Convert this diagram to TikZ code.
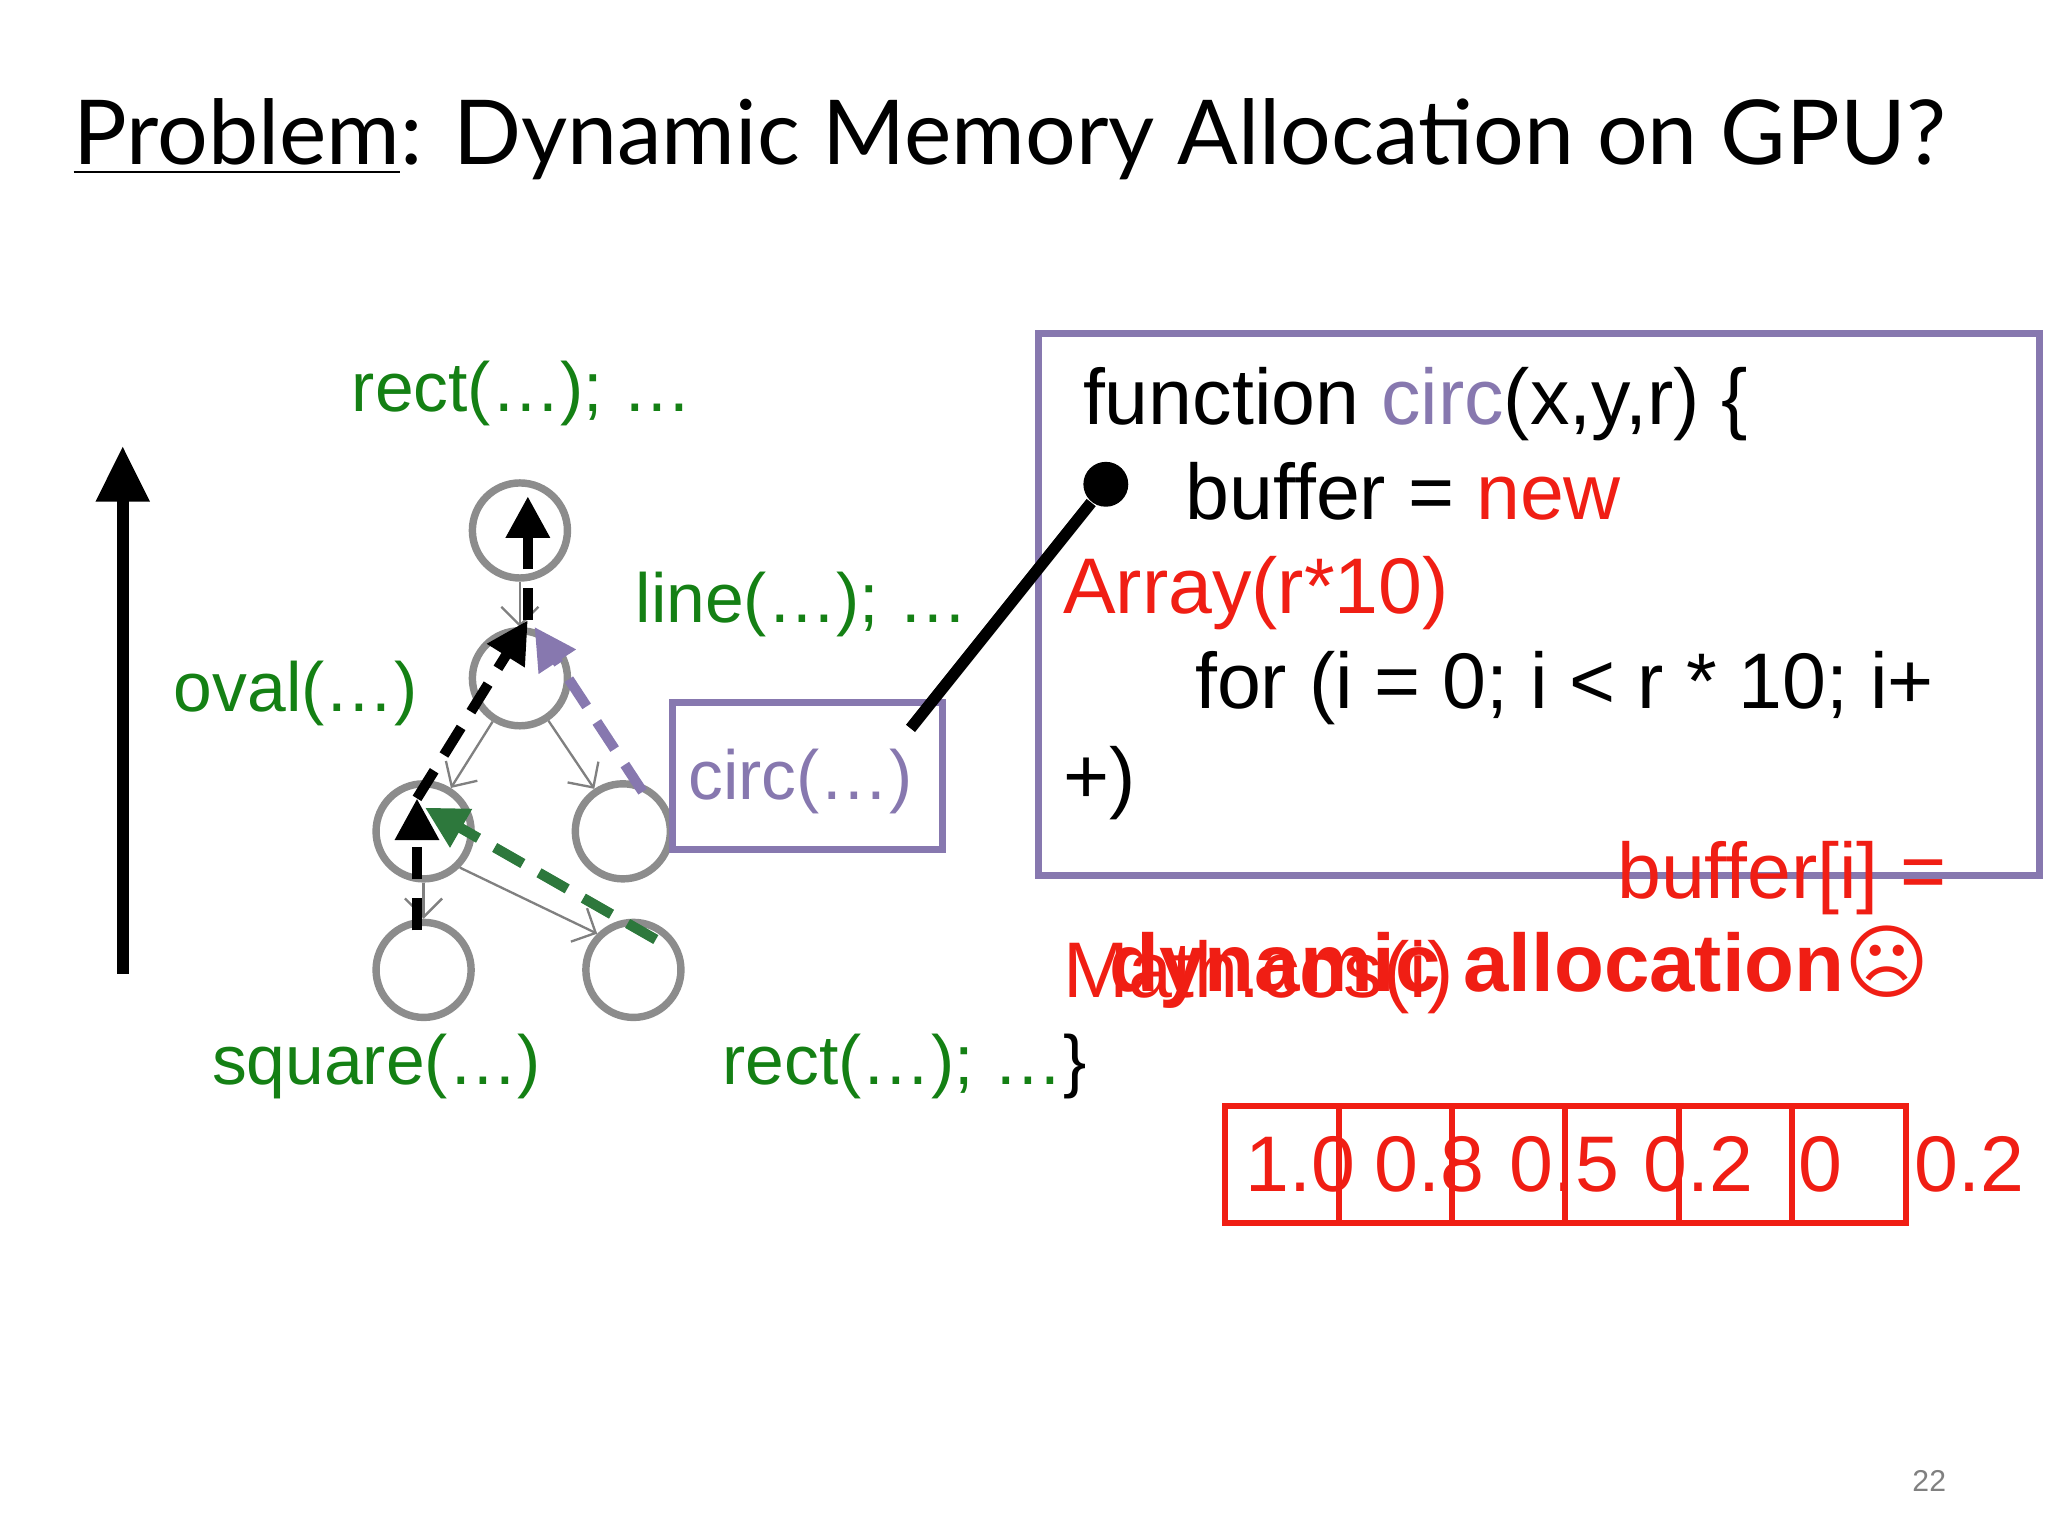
\documentclass[tikz,border=0pt]{standalone}
\usepackage{fontspec}
\setmainfont{Liberation Sans}
\newfontfamily\titlefont{Lato}
\newfontfamily\symfont{DejaVu Sans}
\usetikzlibrary{arrows.meta}
\definecolor{gr}{RGB}{20,128,20}
\definecolor{pu}{RGB}{135,120,175}
\definecolor{rd}{RGB}{240,30,20}
\definecolor{dg}{RGB}{45,120,60}
\tikzset{
 circ/.style={circle,draw=gray!90,line width=1.6pt,minimum size=0.72cm,inner sep=0},
 thin/.style={gray,line width=0.5pt,-{Straight Barb[length=4pt]}},
 dsh/.style={dashed,dash pattern=on 7pt off 4pt,line width=2.2pt,-{Triangle[length=9pt,width=9pt]}},
 lab/.style={anchor=base west,inner sep=0,text=gr,font=\fontsize{15}{18}\selectfont},
 code/.style={anchor=base west,inner sep=0,font=\fontsize{17}{20}\selectfont},
 cell/.style={draw=rd,line width=1.3pt}
}
\begin{document}
\begin{tikzpicture}[yscale=-1,x=0.01cm,y=0.01cm]
\useasboundingbox (0,0) rectangle (1552,1164);
\node[anchor=base west,inner sep=0,font=\titlefont\fontsize{19.3}{22}\selectfont] (title) at (55,125) {\underline{Problem}: Dynamic Memory Allocation on GPU?};
% big arrow
\coordinate (ab) at (93,738); \coordinate (at) at (93,338);
\draw[line width=2.5pt,-{Triangle[length=12pt,width=11pt]}] (ab) -- (at);
% tree
\node[circ] (t) at (394,402) {};
\node[circ] (m) at (394,514) {};
\node[circ] (l) at (321,630) {};
\node[circ] (r) at (472,630) {};
\node[circ] (bl) at (321,735) {};
\node[circ] (br) at (480,735) {};
\draw[thin] (t) -- (m);
\draw[thin] (m) -- (l);
\draw[thin] (m) -- (r);
\draw[thin] (l) -- (bl);
\draw[thin] (l.south east) -- (br.north west);
\coordinate (d1) at (316,705); \coordinate (d2) at (316,605);
\coordinate (d3) at (400,470); \coordinate (d4) at (400,376);
\draw[dsh] (d1) -- (d2);
\draw[dsh] (d2) -- (d3);
\draw[dsh] (d3) -- (d4);
\coordinate (p1) at (487,600); \coordinate (p2) at (405,475);
\draw[dsh,pu] (p1) -- (p2);
\coordinate (g1) at (497,712); \coordinate (g2) at (322,612);
\draw[dsh,dg] (g1) -- (g2);
% labels
\node[lab] (l1) at (266,312) {rect(…); …};
\node[lab] (l2) at (481,472) {line(…); …};
\node[lab] (l3) at (131,539) {oval(…)};
\node[lab] (l4) at (160,822) {square(…)};
\node[lab] (l5) at (547,822) {rect(…); …\textcolor{black}{\}}};
\node[draw=pu,line width=1.5pt,minimum width=2.04cm,minimum height=1.11cm,inner sep=0] (cb) at (612,588) {};
\node[lab,text=pu] (ct) at (521,606) {circ(…)};
% code box
\node[draw=pu,line width=1.5pt,minimum width=7.58cm,minimum height=4.10cm,inner sep=0] (box) at (1166,458) {};
\node[code] (c1) at (820,322) {function \textcolor{pu}{circ}(x,y,r) \{};
\node[code] (c2) at (898,394) {buffer = \textcolor{rd}{new}};
\node[code,text=rd] (c3) at (805,465) {Array(r*10)};
\node[code] (c4) at (905,537) {for (i = 0; i < r * 10; i+};
\node[code] (c5) at (805,609) {+)};
\node[code,text=rd,anchor=base east] (c6) at (1476,681) {buffer[i] =};
\node[code,text=rd] (c7) at (805,756) {Math.cos(i)};
\node[code,text=rd,font=\bfseries\fontsize{17.6}{20}\selectfont] (c8) at (840,751) {dynamic allocation\symfont ☹};
\node[circle,fill=black,inner sep=0,minimum size=0.34cm] (dot) at (838,367) {};
\coordinate (le) at (690,552);
\draw[line width=2.5pt] (dot) -- (le);
% array
\foreach \a/\b in {928/1015,1015/1100,1100/1186,1186/1272,1272/1358,1358/1444}
  \draw[cell] (\a,838) rectangle (\b,927);
\foreach \x/\v in {943/1.0,1041/0.8,1143/0.5,1245/0.2,1362/0,1450/0.2}
  \node[code,text=rd] at (\x,903) {\v};
\node[anchor=base,inner sep=0,text=gray,font=\fontsize{6.5}{8}\selectfont] (pg) at (1462,1130) {22};
\end{tikzpicture}
\end{document}
